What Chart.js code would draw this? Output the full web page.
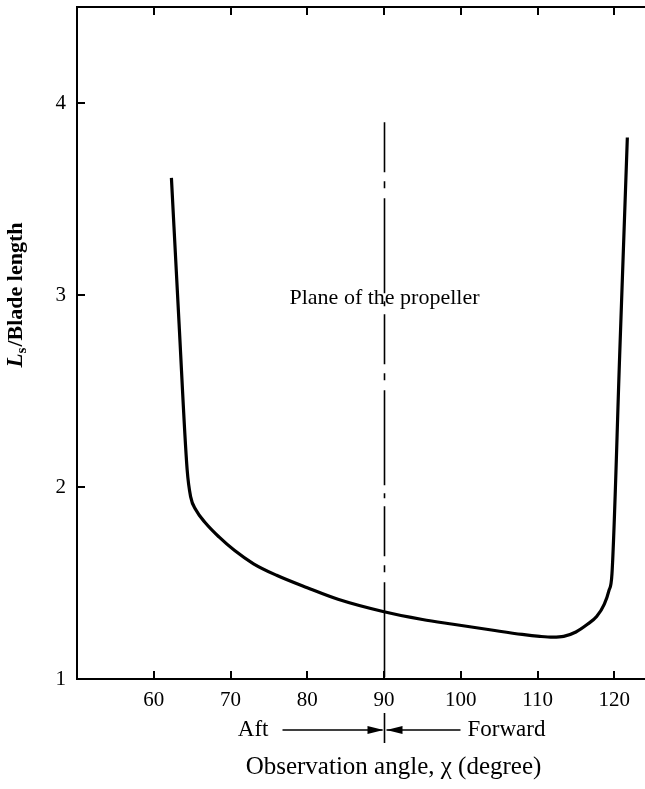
<!DOCTYPE html>
<html>
<head>
<meta charset="utf-8">
<script src="https://cdn.jsdelivr.net/npm/chart.js@4.4.1/dist/chart.umd.min.js"></script>
<style>
    html, body { margin: 0; padding: 0; background: #fff; }
    #wrap { width: 645px; height: 789px; position: relative; }
</style>
</head>
<body>
<div id="wrap"><canvas id="chart"></canvas></div>
<script>
// observation angle (degree) and L_s / blade length
const angles = [62.3, 63.3, 64.35, 64.8, 65.5, 66.8, 68.5, 70.5, 73, 76, 80, 84, 90, 95, 99, 104, 108, 110.3, 112, 113.4, 115, 116.5, 117.7, 118.7, 119.3, 119.7, 120.7, 121.7];
const lengthRatio = [3.61, 2.85, 2.09, 1.95, 1.88, 1.81, 1.74, 1.67, 1.6, 1.54, 1.475, 1.415, 1.35, 1.31, 1.285, 1.255, 1.232, 1.222, 1.218, 1.222, 1.245, 1.285, 1.325, 1.39, 1.46, 1.55, 2.685, 3.82];

const xTicks = [60, 70, 80, 90, 100, 110, 120];
const yTicks = [1, 2, 3, 4];

// plane of the propeller marker
const planeAngle = 90;
const planeTop = 3.9;

const SERIF = '"Liberation Serif", "Times New Roman", serif';

const annotations = {
    id: 'annotations',
    afterDraw(chart) {
        const { ctx, chartArea, scales } = chart;
        const x = scales.x;
        const y = scales.y;
        const tick = 8;

        ctx.save();
        ctx.strokeStyle = '#000';
        ctx.fillStyle = '#000';

        // top frame line
        ctx.lineWidth = 2;
        ctx.beginPath();
        ctx.moveTo(chartArea.left, chartArea.top);
        ctx.lineTo(chartArea.right, chartArea.top);
        ctx.stroke();

        // inward ticks
        ctx.beginPath();
        xTicks.forEach(v => {
            const px = Math.round(x.getPixelForValue(v));
            ctx.moveTo(px, chartArea.bottom);
            ctx.lineTo(px, chartArea.bottom - tick);
            ctx.moveTo(px, chartArea.top);
            ctx.lineTo(px, chartArea.top + tick);
        });
        yTicks.forEach(v => {
            const py = Math.round(y.getPixelForValue(v));
            ctx.moveTo(chartArea.left, py);
            ctx.lineTo(chartArea.left + tick, py);
        });
        ctx.stroke();

        // dash-dot plane line
        const planeX = Math.round(x.getPixelForValue(planeAngle)) + 0.5;
        ctx.lineWidth = 1.6;
        ctx.setLineDash([50, 9, 7, 10, 95, 8, 5, 8]);
        ctx.beginPath();
        ctx.moveTo(planeX, y.getPixelForValue(planeTop));
        ctx.lineTo(planeX, chartArea.bottom);
        ctx.stroke();
        ctx.setLineDash([]);

        ctx.font = '22px ' + SERIF;
        ctx.textAlign = 'center';
        ctx.textBaseline = 'middle';
        ctx.fillText('Plane of the propeller', planeX, y.getPixelForValue(2.985));

        // aft / forward arrows below the axis
        const arrowY = chartArea.bottom + 51;
        ctx.beginPath();
        ctx.moveTo(planeX, chartArea.bottom + 34);
        ctx.lineTo(planeX, chartArea.bottom + 64);
        ctx.moveTo(planeX - 102, arrowY);
        ctx.lineTo(planeX - 2, arrowY);
        ctx.moveTo(planeX + 76, arrowY);
        ctx.lineTo(planeX + 2, arrowY);
        ctx.stroke();

        ctx.beginPath();
        ctx.moveTo(planeX - 1, arrowY);
        ctx.lineTo(planeX - 17, arrowY - 4);
        ctx.lineTo(planeX - 17, arrowY + 4);
        ctx.closePath();
        ctx.moveTo(planeX + 2, arrowY);
        ctx.lineTo(planeX + 18, arrowY - 4);
        ctx.lineTo(planeX + 18, arrowY + 4);
        ctx.closePath();
        ctx.fill();

        ctx.font = '23px ' + SERIF;
        ctx.textAlign = 'right';
        ctx.fillText('Aft', planeX - 116, arrowY);
        ctx.textAlign = 'left';
        ctx.fillText('Forward', planeX + 83, arrowY);

        // x axis title
        ctx.font = '25px ' + SERIF;
        ctx.textAlign = 'center';
        ctx.fillText('Observation angle, \u03c7 (degree)', planeX + 9, chartArea.bottom + 88);

        // y axis title: italic L with subscript s
        const mainFont = 'bold 22px ' + SERIF;
        const italicFont = 'italic bold 23px ' + SERIF;
        const subFont = 'bold 15px ' + SERIF;
        ctx.font = italicFont;
        const wL = ctx.measureText('L').width;
        ctx.font = subFont;
        const wS = ctx.measureText('s').width;
        ctx.font = mainFont;
        const wRest = ctx.measureText('/Blade length').width;
        const total = wL + wS + 1 + wRest;

        ctx.translate(16, y.getPixelForValue(3.0));
        ctx.rotate(-Math.PI / 2);
        ctx.textAlign = 'left';
        ctx.textBaseline = 'middle';
        let cx = -total / 2;
        ctx.font = italicFont;
        ctx.fillText('L', cx, 0);
        cx += wL;
        ctx.font = subFont;
        ctx.fillText('s', cx, 6);
        cx += wS + 1;
        ctx.font = mainFont;
        ctx.fillText('/Blade length', cx, 0);

        ctx.restore();
    }
};

new Chart(document.getElementById('chart'), {
    type: 'line',
    data: {
        datasets: [{
            data: angles.map((a, i) => ({ x: a, y: lengthRatio[i] })),
            borderColor: '#000',
            borderWidth: 3.2,
            pointRadius: 0,
            fill: false,
            cubicInterpolationMode: 'monotone',
        }]
    },
    options: {
        responsive: true,
        maintainAspectRatio: false,
        animation: false,
        layout: { padding: { top: 7, right: 0, left: 0, bottom: 0 } },
        plugins: {
            legend: { display: false },
            tooltip: { enabled: false },
        },
        scales: {
            x: {
                type: 'linear',
                min: 50,
                max: 124,
                afterBuildTicks: (scale) => { scale.ticks = xTicks.map(v => ({ value: v })); },
                afterFit: (scale) => {
                    scale.height = 110;
                    scale.paddingLeft = 0;
                    scale.paddingRight = 0;
                },
                grid: { display: false, drawTicks: false },
                border: { display: true, color: '#000', width: 2 },
                ticks: {
                    color: '#000',
                    padding: 9,
                    maxRotation: 0,
                    font: { family: SERIF, size: 21 },
                },
            },
            y: {
                type: 'linear',
                min: 1,
                max: 4.5,
                afterBuildTicks: (scale) => { scale.ticks = yTicks.map(v => ({ value: v })); },
                afterFit: (scale) => {
                    scale.width = 77;
                    scale.paddingTop = 0;
                    scale.paddingBottom = 0;
                },
                grid: { display: false, drawTicks: false },
                border: { display: true, color: '#000', width: 2 },
                ticks: {
                    color: '#000',
                    padding: 11,
                    font: { family: SERIF, size: 21 },
                },
            }
        }
    },
    plugins: [annotations]
});
</script>
</body>
</html>
